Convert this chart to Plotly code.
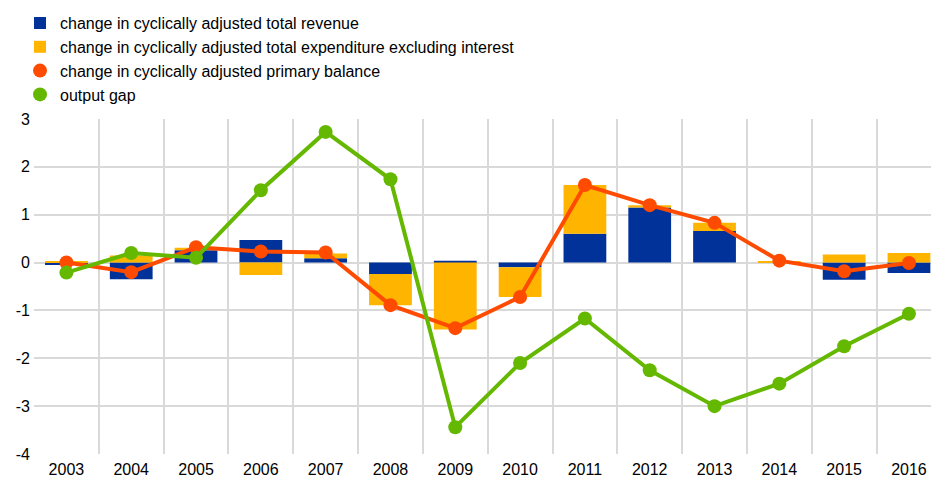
"""Cyclically adjusted fiscal components vs output gap."""

import plotly.graph_objects as go

# Colour constants
COLOR_REVENUE = "#003299"
COLOR_EXPENDITURE = "#FFB400"
COLOR_BALANCE = "#FF4B00"
COLOR_GAP = "#65B800"
COLOR_GRID = "#D9D9D9"

years = ["2003", "2004", "2005", "2006", "2007", "2008", "2009",
         "2010", "2011", "2012", "2013", "2014", "2015", "2016"]

revenue = [-0.05, -0.35, 0.26, 0.47, 0.09, -0.24, 0.04,
           -0.10, 0.60, 1.15, 0.66, 0.00, -0.36, -0.22]
expenditure = [0.03, 0.15, 0.05, -0.26, 0.10, -0.65, -1.40,
               -0.62, 1.02, 0.05, 0.17, 0.03, 0.17, 0.20]
primary_balance = [0.00, -0.20, 0.32, 0.23, 0.21, -0.89, -1.37,
                   -0.72, 1.62, 1.20, 0.83, 0.04, -0.18, -0.01]
output_gap = [-0.21, 0.20, 0.10, 1.51, 2.73, 1.74, -3.44,
              -2.10, -1.17, -2.25, -3.00, -2.53, -1.75, -1.07]

y_ticks = [-4, -3, -2, -1, 0, 1, 2, 3]
y_tick_labels = ["-4", "-3", "-2", "-1", "0", "1", "2", "3"]

LABELS = [
    "change in cyclically adjusted total revenue",
    "change in cyclically adjusted total expenditure excluding interest",
    "change in cyclically adjusted primary balance",
    "output gap",
]

fig = go.Figure()

fig.add_trace(go.Bar(x=years, y=revenue, name=LABELS[0],
                     marker=dict(color=COLOR_REVENUE, line=dict(width=0)),
                     width=0.66))
fig.add_trace(go.Bar(x=years, y=expenditure, name=LABELS[1],
                     marker=dict(color=COLOR_EXPENDITURE, line=dict(width=0)),
                     width=0.66))

# lines drawn without legend; legend gets plain dots like the original
fig.add_trace(go.Scatter(x=years, y=primary_balance, mode="lines+markers",
                         line=dict(color=COLOR_BALANCE, width=4),
                         marker=dict(size=14, color=COLOR_BALANCE),
                         showlegend=False))
fig.add_trace(go.Scatter(x=years, y=output_gap, mode="lines+markers",
                         line=dict(color=COLOR_GAP, width=4),
                         marker=dict(size=14, color=COLOR_GAP),
                         showlegend=False))
for name, col in [(LABELS[2], COLOR_BALANCE), (LABELS[3], COLOR_GAP)]:
    fig.add_trace(go.Scatter(x=[None], y=[None], mode="markers", name=name,
                             marker=dict(size=14, color=col)))

fig.update_layout(
    width=931,
    height=480,
    barmode="relative",
    plot_bgcolor="white",
    paper_bgcolor="white",
    font=dict(family="Liberation Sans, Arial", size=16, color="#000000"),
    margin=dict(l=34, r=0, t=119, b=26, autoexpand=False),
    legend=dict(
        x=-0.0156, y=1.337, xanchor="left", yanchor="top",
        traceorder="normal", font=dict(size=16),
        itemwidth=30, tracegroupgap=0,
    ),
    xaxis=dict(
        type="category",
        tickson="boundaries",
        range=[-0.5, 13.34],
        showgrid=True, gridcolor=COLOR_GRID, gridwidth=1.5,
        showline=False, zeroline=False, ticks="",
        tickangle=0, automargin=False, ticklabelstandoff=4,
    ),
    yaxis=dict(
        range=[-4, 3],
        tickvals=y_ticks, ticktext=y_tick_labels,
        showgrid=True, gridcolor=COLOR_GRID, gridwidth=1.5,
        zeroline=True, zerolinecolor=COLOR_GRID, zerolinewidth=1.5,
        showline=False, ticks="", automargin=False,
        ticklabelstandoff=3,
    ),
)

# drop the default 8px body margin so the figure fills the window exactly
fig.write_html("out.html",
               config={"displayModeBar": False},
               post_script="document.body.style.margin='0';"
                           "document.body.style.overflow='hidden';")
